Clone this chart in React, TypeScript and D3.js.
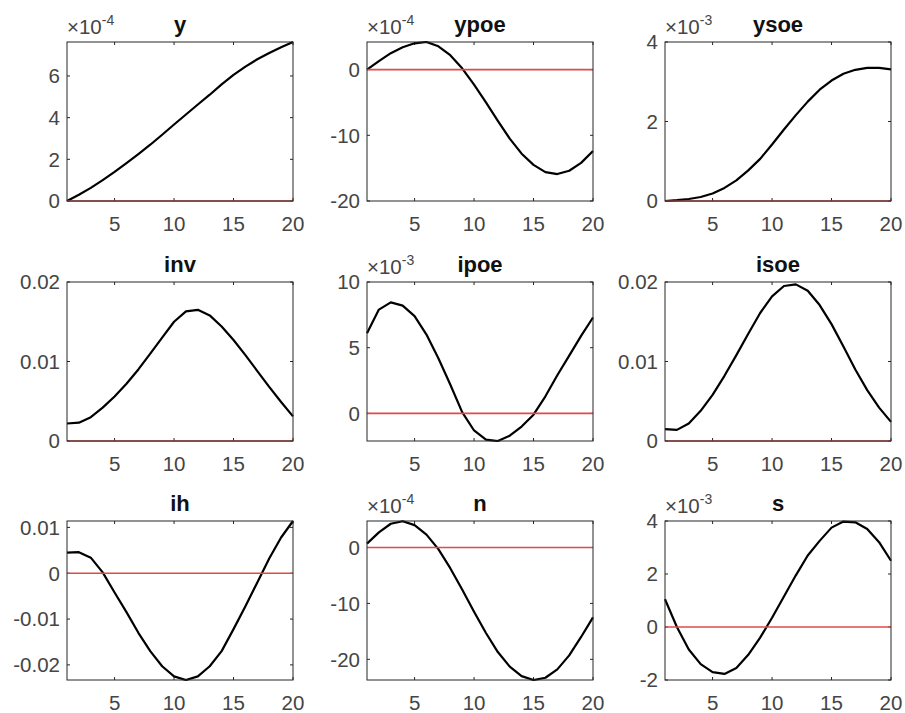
import React from 'react';
import * as d3 from 'd3';

// periods 1..20
const periods = [1, 2, 3, 4, 5, 6, 7, 8, 9, 10, 11, 12, 13, 14, 15, 16, 17, 18, 19, 20];
const xTicks = [5, 10, 15, 20];

// values in the units shown on each panel's axis (see exponent list)
const yVals = [0, 0.3, 0.63, 1.0, 1.4, 1.82, 2.25, 2.7, 3.18, 3.67, 4.15, 4.63, 5.1, 5.6, 6.05, 6.45, 6.8, 7.1, 7.38, 7.63];
const ypoeVals = [0, 1.3, 2.5, 3.4, 4.0, 4.2, 3.55, 2.2, 0.2, -2.3, -5.0, -7.8, -10.5, -12.8, -14.5, -15.6, -15.9, -15.4, -14.2, -12.4];
const ysoeVals = [0, 0.02, 0.05, 0.1, 0.19, 0.33, 0.52, 0.77, 1.06, 1.42, 1.8, 2.16, 2.5, 2.8, 3.03, 3.2, 3.3, 3.35, 3.35, 3.31];
const invVals = [0.0022, 0.0023, 0.003, 0.0042, 0.0056, 0.0072, 0.009, 0.011, 0.013, 0.015, 0.0163, 0.0165, 0.0158, 0.0144, 0.0127, 0.0108, 0.0088, 0.0068, 0.0049, 0.0031];
const ipoeVals = [6.1, 7.9, 8.45, 8.2, 7.4, 6.0, 4.2, 2.2, 0.1, -1.3, -2.0, -2.1, -1.7, -1.0, -0.1, 1.3, 2.9, 4.4, 5.9, 7.3];
const isoeVals = [0.0015, 0.0014, 0.0022, 0.0038, 0.0058, 0.0082, 0.0108, 0.0135, 0.0161, 0.0182, 0.0195, 0.0197, 0.0189, 0.0171, 0.0147, 0.0119, 0.009, 0.0064, 0.0042, 0.0024];
const ihVals = [0.0045, 0.0046, 0.0034, 0.0002, -0.0042, -0.0085, -0.013, -0.017, -0.0203, -0.0225, -0.0233, -0.0225, -0.0203, -0.017, -0.0122, -0.0072, -0.002, 0.0032, 0.0078, 0.0114];
const nVals = [0.7, 2.7, 4.25, 4.7, 4.0, 2.3, -0.3, -3.7, -7.5, -11.5, -15.3, -18.7, -21.3, -23.0, -23.7, -23.3, -21.8, -19.3, -16.0, -12.5];
const sVals = [1.05, 0.0, -0.85, -1.4, -1.7, -1.77, -1.55, -1.05, -0.4, 0.35, 1.15, 1.95, 2.7, 3.25, 3.75, 3.98, 3.95, 3.7, 3.2, 2.5];

const titles = ['y', 'ypoe', 'ysoe', 'inv', 'ipoe', 'isoe', 'ih', 'n', 's'];
const seriesList = [yVals, ypoeVals, ysoeVals, invVals, ipoeVals, isoeVals, ihVals, nVals, sVals];
const exponents: (number | null)[] = [-4, -4, -3, null, -3, null, null, -4, -3];
const yLimits: [number, number][] = [
  [0, 7.63], [-20, 4.2], [0, 4],
  [0, 0.02], [-2.1, 10], [0, 0.02],
  [-0.0233, 0.0114], [-23.7, 4.74], [-2, 4],
];
const yTickLists = [
  [0, 2, 4, 6], [-20, -10, 0], [0, 2, 4],
  [0, 0.01, 0.02], [0, 5, 10], [0, 0.01, 0.02],
  [-0.02, -0.01, 0, 0.01], [-20, -10, 0], [-2, 0, 2, 4],
];

const colLeft = [67, 367, 665];
const rowTop = [42, 282, 521];
const panelW = 226;
const panelH = 159;
const font = '"Liberation Sans", Arial, Helvetica, sans-serif';
const tickColor = '#454545';

const Panel = ({ i }: { i: number }) => {
  const left = colLeft[i % 3];
  const top = rowTop[Math.floor(i / 3)];
  const x = d3.scaleLinear().domain([1, 20]).range([0, panelW]);
  const y = d3.scaleLinear().domain(yLimits[i]).range([panelH, 0]);
  const line = d3.line<number>()
    .x((_, k) => x(periods[k]))
    .y(d => y(d));
  const zeroLine = d3.line<number>()
    .x(d => x(d))
    .y(() => y(0));
  const exp = exponents[i];

  return (
    <g transform={`translate(${left},${top})`}>
      <defs>
        <clipPath id={`clip-${i}`}>
          <rect x={-1} y={-1} width={panelW + 2} height={panelH + 2} />
        </clipPath>
      </defs>
      {/* ticks inside the box */}
      {xTicks.map(t => (
        <g key={`xt-${t}`}>
          <line x1={x(t)} x2={x(t)} y1={panelH} y2={panelH - 3} stroke="#262626" />
          <line x1={x(t)} x2={x(t)} y1={0} y2={3} stroke="#262626" />
          <text x={x(t)} y={panelH + 30} textAnchor="middle" fontSize={20.5} fill={tickColor}>{t}</text>
        </g>
      ))}
      {yTickLists[i].map(t => (
        <g key={`yt-${t}`}>
          <line x1={0} x2={3} y1={y(t)} y2={y(t)} stroke="#262626" />
          <line x1={panelW} x2={panelW - 3} y1={y(t)} y2={y(t)} stroke="#262626" />
          <text x={-7} y={y(t)} dy="0.36em" textAnchor="end" fontSize={20.5} fill={tickColor}>{String(t)}</text>
        </g>
      ))}
      <g clipPath={`url(#clip-${i})`}>
        <path d={line(seriesList[i]) ?? ''} fill="none" stroke="#000" strokeWidth={2.2} strokeLinejoin="round" />
        <path d={zeroLine([1, 20]) ?? ''} fill="none" stroke="#e04a4a" strokeWidth={1.6} />
      </g>
      <rect x={0} y={0} width={panelW} height={panelH} fill="none" stroke="#262626" strokeWidth={1} />
      <text x={panelW / 2} y={-10} textAnchor="middle" fontSize={22} fontWeight="bold" fill="#111">{titles[i]}</text>
      {exp !== null && (
        <text x={0} y={-8} fontSize={20.5} fill={tickColor}>
          ×10<tspan dy={-9} fontSize={14}>{exp}</tspan>
        </text>
      )}
    </g>
  );
};

export default function App() {
  return (
    <svg
      width={905}
      height={713}
      style={{ position: 'absolute', left: 0, top: 0, background: '#fff', fontFamily: font }}
    >
      <rect width={905} height={713} fill="#fff" />
      {titles.map((_, i) => <Panel key={i} i={i} />)}
    </svg>
  );
}
